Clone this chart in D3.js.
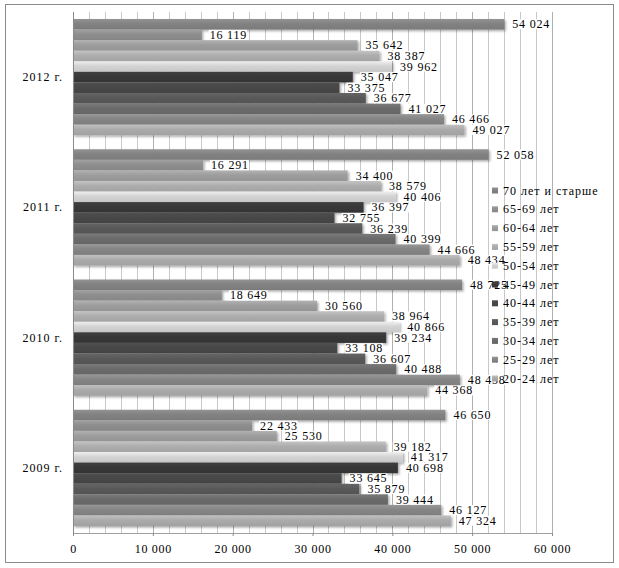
<!DOCTYPE html>
<html><head><meta charset="utf-8">
<script src="https://cdn.jsdelivr.net/npm/d3@7/dist/d3.min.js"></script>
<style>body{margin:0;background:#fff}svg{display:block}text{font-family:"Liberation Serif","Times New Roman",serif;fill:#000}</style>
</head><body>
<svg id="c" width="619" height="568"></svg>
<script>
const categories = ["2012 г.", "2011 г.", "2010 г.", "2009 г."];
const series = ["70 лет и старше","65-69 лет","60-64 лет","55-59 лет","50-54 лет","45-49 лет","40-44 лет","35-39 лет","30-34 лет","25-29 лет","20-24 лет"];
const colors = ["#828282","#8e8e8e","#9d9d9d","#adadad","#d3d3d3","#383838","#474747","#595959","#6b6b6b","#858585","#aaaaaa"];
// values per category, in series order (70+ ... 20-24)
const v2012 = [54024,16119,35642,38387,39962,35047,33375,36677,41027,46466,49027];
const v2011 = [52058,16291,34400,38579,40406,36397,32755,36239,40399,44666,48434];
const v2010 = [48725,18649,30560,38964,40866,39234,33108,36607,40488,48458,44368];
const v2009 = [46650,22433,25530,39182,41317,40698,33645,35879,39444,46127,47324];
const values = [v2012, v2011, v2010, v2009];
const xTicks = [0,10000,20000,30000,40000,50000,60000];

const svg = d3.select("#c");
const fmt = v => d3.format(",")(v).replace(/,/g," ");
const L=73, R=552, T=12, B=533;
const x = d3.scaleLinear().domain([0,60000]).range([L,R]);
const y0 = d3.scaleBand().domain(categories).range([T,B]).padding(0);
const pad = 7;
const y1 = d3.scaleBand().domain(series).range([pad, y0.bandwidth()-pad]).padding(0);

// frame
svg.append("rect").attr("x",5.5).attr("y",4.5).attr("width",608).attr("height",558)
  .attr("fill","#fff").attr("stroke","#8a8a8a");

const defs = svg.append("defs");
const f = defs.append("filter").attr("id","sh").attr("x","-5%").attr("y","-30%").attr("width","115%").attr("height","180%");
f.append("feDropShadow").attr("dx",1.5).attr("dy",1.5).attr("stdDeviation",1.2).attr("flood-color","#000").attr("flood-opacity",0.35);
series.forEach((s,i)=>{
  const c = d3.color(colors[i]);
  const g = defs.append("linearGradient").attr("id","g"+i).attr("x1",0).attr("y1",0).attr("x2",0).attr("y2",1);
  g.append("stop").attr("offset","0%").attr("stop-color",c.brighter(0.35));
  g.append("stop").attr("offset","45%").attr("stop-color",c);
  g.append("stop").attr("offset","100%").attr("stop-color",c.darker(0.15));
});

// gridlines every 2000
const grid = d3.range(2000,60001,2000);
svg.append("g").selectAll("line").data(grid).join("line")
  .attr("x1",d=>Math.round(x(d))+0.5).attr("x2",d=>Math.round(x(d))+0.5)
  .attr("y1",T).attr("y2",B)
  .attr("stroke",d=>d%10000===0?"#b0b0b0":"#c8c8c8").attr("stroke-width",1);

// bars
const gCat = svg.append("g").selectAll("g").data(categories).join("g")
  .attr("transform",d=>`translate(0,${y0(d)})`);
gCat.selectAll("rect").data((d,ci)=>values[ci].map((v,si)=>({v,si})))
  .join("rect")
  .attr("x",L).attr("y",d=>y1(series[d.si])).attr("height",y1.bandwidth())
  .attr("width",d=>x(d.v)-L)
  .attr("fill",d=>`url(#g${d.si})`).attr("filter","url(#sh)");

// axes
svg.append("line").attr("x1",L+0.5).attr("x2",L+0.5).attr("y1",T).attr("y2",B+3).attr("stroke","#8a8a8a");
svg.append("line").attr("x1",L).attr("x2",R).attr("y1",B+0.5).attr("y2",B+0.5).attr("stroke","#a0a0a0");
const xAxis = d3.axisBottom(x).tickValues(xTicks).tickSize(3).tickFormat(fmt);
const ax = svg.append("g").attr("transform",`translate(0,${B})`).call(xAxis);
ax.select(".domain").remove();
ax.selectAll(".tick line").attr("stroke","#8a8a8a");
ax.selectAll(".tick text").attr("font-size","12px").attr("letter-spacing","0.7px")
  .attr("dy",0).attr("y",20).attr("font-family",'"Liberation Serif",serif');

// category labels
svg.append("g").selectAll("text").data(categories).join("text")
  .attr("x",63).attr("y",d=>y0(d)+y0.bandwidth()/2+4)
  .attr("text-anchor","end").attr("font-size","12px").attr("letter-spacing","1px")
  .text(d=>d);

// data labels (drawn bottom series first, like the original)
const lab = svg.append("g");
categories.forEach((c,ci)=>{
  for(let si=series.length-1; si>=0; si--){
    const v = values[ci][si];
    const cy = y0(c)+y1(series[si])+y1.bandwidth()/2;
    const g = lab.append("g");
    const t = g.append("text").attr("x",x(v)+8).attr("y",cy+4)
      .attr("font-size","12px").attr("letter-spacing","0.8px").text(fmt(v));
    const bb = t.node().getBBox();
    g.insert("rect","text").attr("x",bb.x-1).attr("y",cy-5).attr("width",bb.width+1).attr("height",10).attr("fill","#fff");
  }
});

// legend
const lg = svg.append("g");
series.forEach((s,i)=>{
  const yy = 190.5 + i*18.8;
  lg.append("rect").attr("x",492).attr("y",yy-3).attr("width",6).attr("height",6).attr("fill",`url(#g${i})`);
  lg.append("text").attr("x",503).attr("y",yy+4).attr("font-size","12px").attr("letter-spacing","1px").text(s);
});
</script>
</body></html>
